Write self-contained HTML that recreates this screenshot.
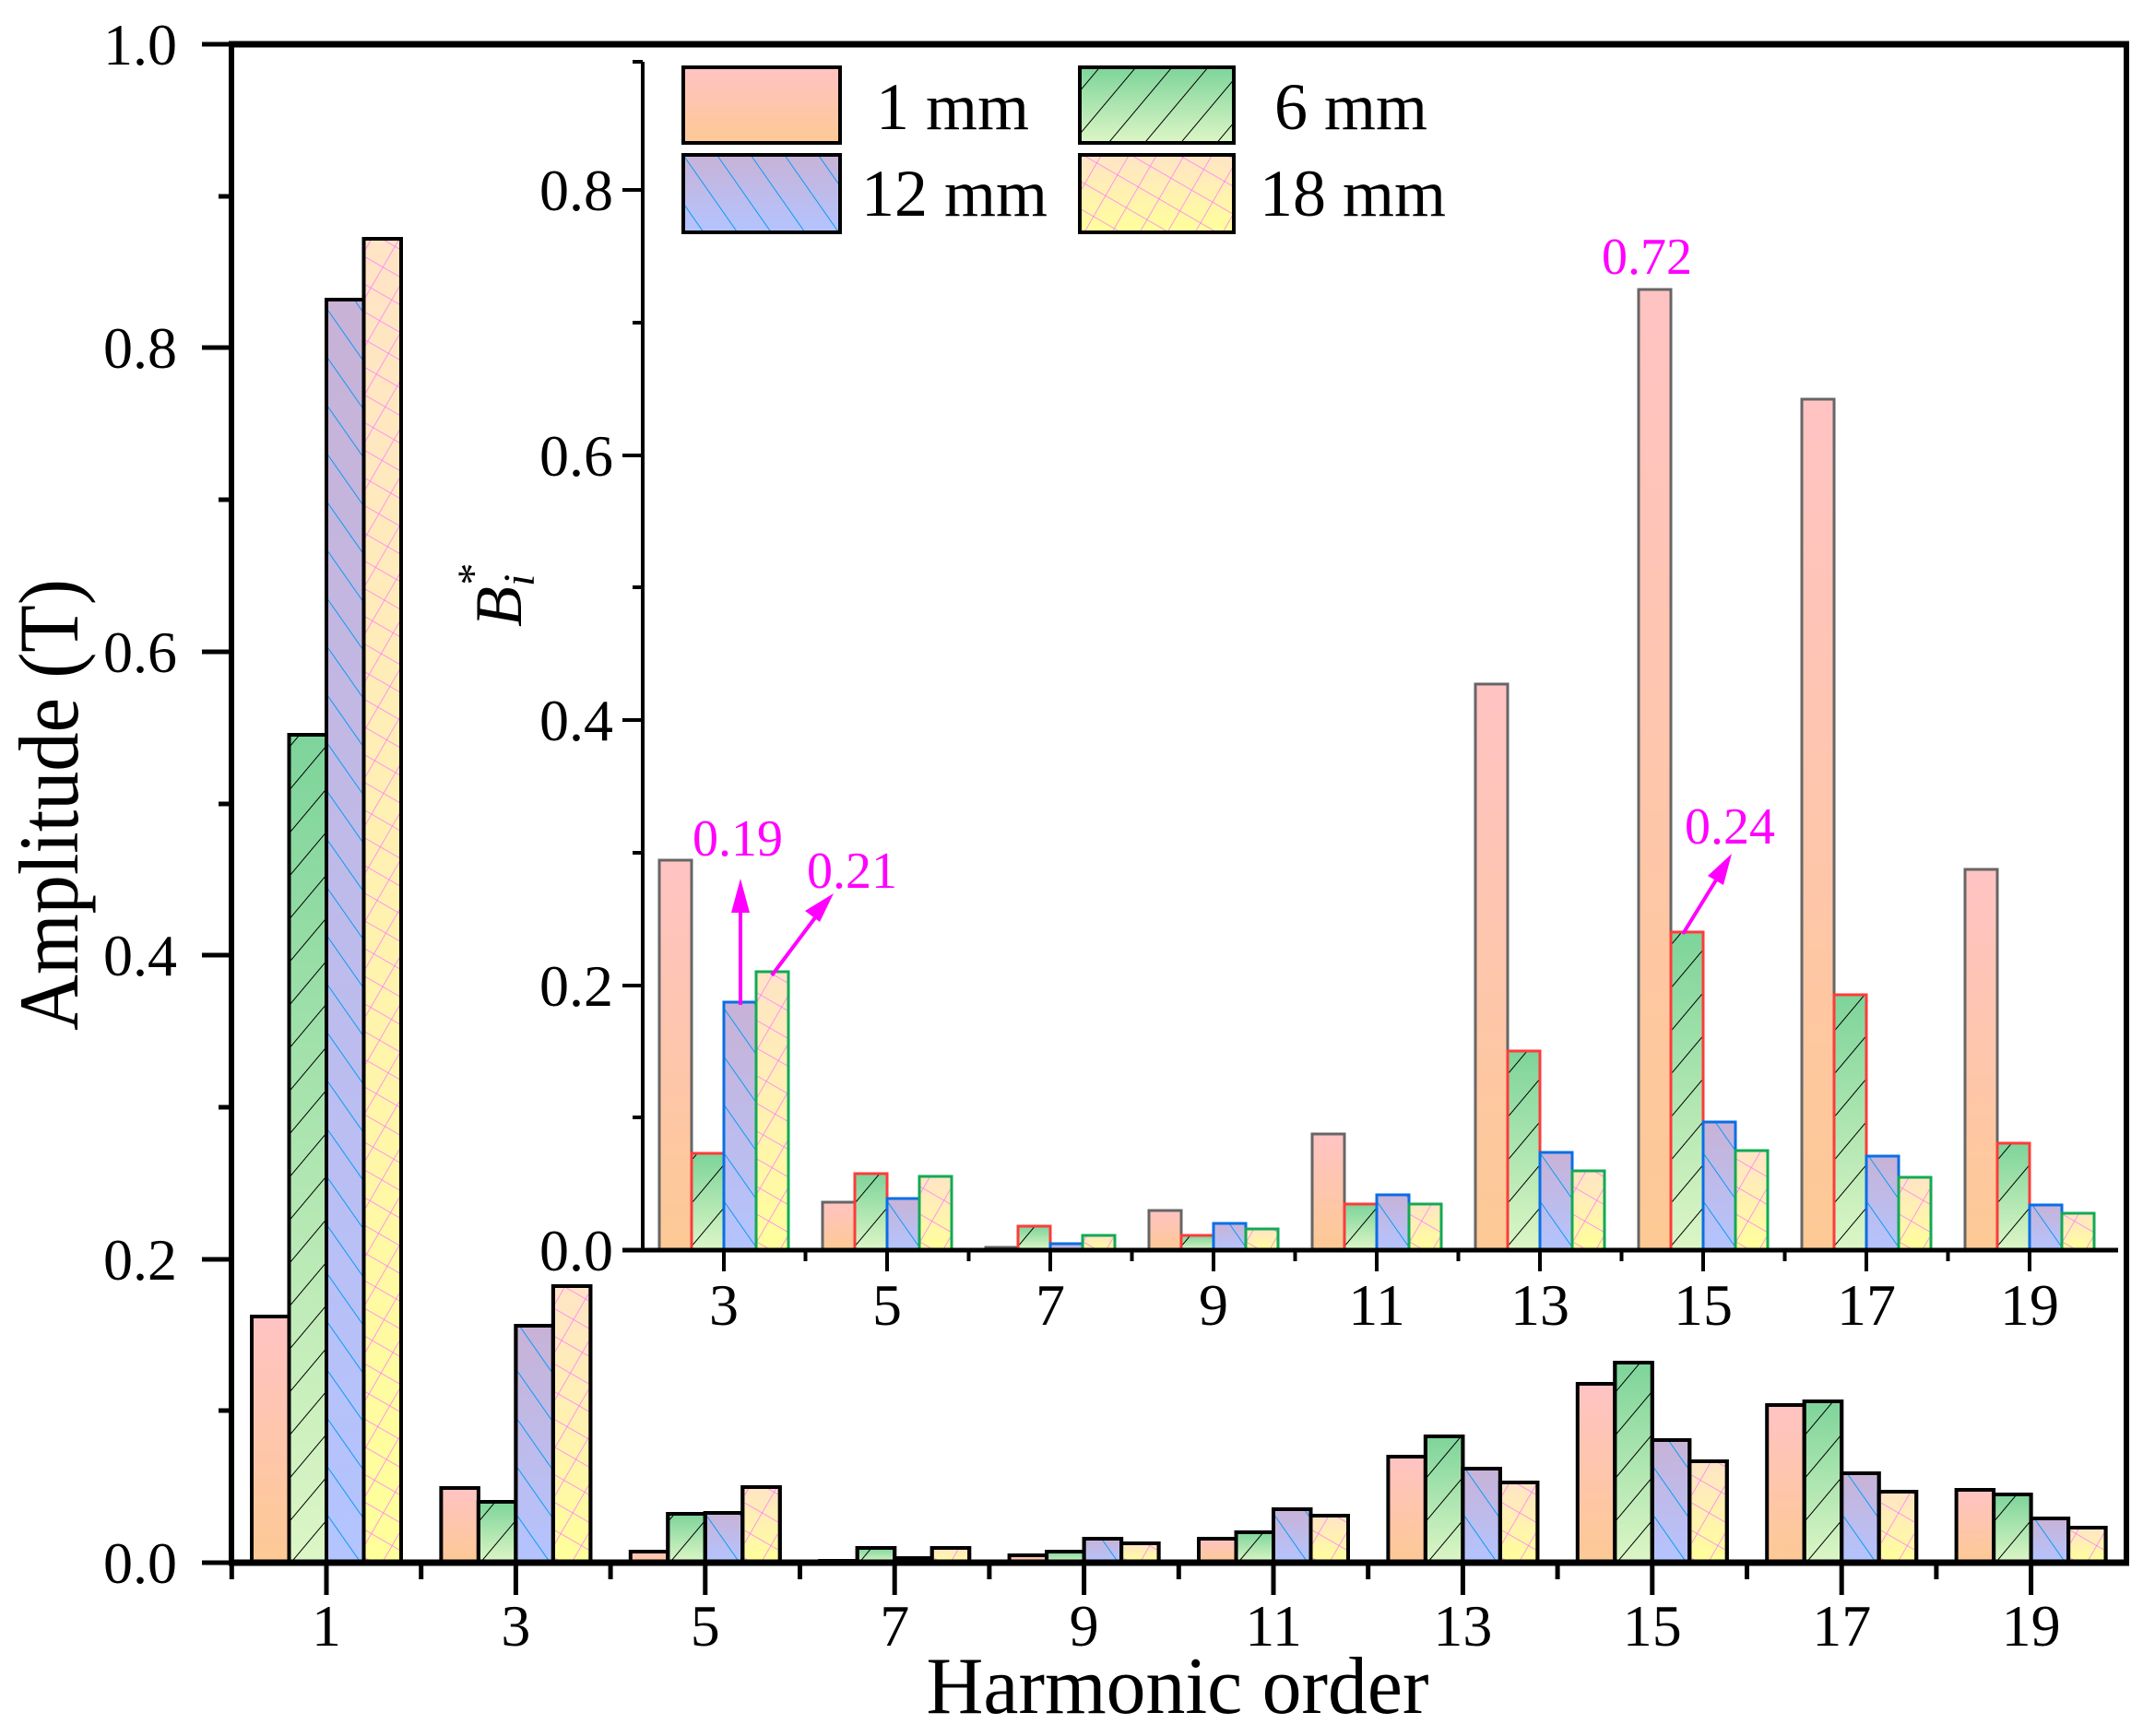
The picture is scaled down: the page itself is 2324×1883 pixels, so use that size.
<!DOCTYPE html>
<html><head><meta charset="utf-8"><style>html,body{margin:0;padding:0;background:#fff}svg{display:block}</style></head>
<body>
<svg width="2324" height="1883" viewBox="0 0 2324 1883" xmlns="http://www.w3.org/2000/svg" font-family="Liberation Serif, serif">
<defs>
<linearGradient id="g1" x1="0" y1="0" x2="0" y2="1"><stop offset="0" stop-color="#ffc3c3"/><stop offset="1" stop-color="#fdc994"/></linearGradient>
<linearGradient id="g2" x1="0" y1="0" x2="0" y2="1"><stop offset="0" stop-color="#7dd49a"/><stop offset="1" stop-color="#ddf6c6"/></linearGradient>
<linearGradient id="g3" x1="0" y1="0" x2="0" y2="1"><stop offset="0" stop-color="#c8b2d6"/><stop offset="1" stop-color="#b3c4ff"/></linearGradient>
<linearGradient id="g4" x1="0" y1="0" x2="0" y2="1"><stop offset="0" stop-color="#ffe4c6"/><stop offset="1" stop-color="#ffff9a"/></linearGradient>
<pattern id="p2" width="30" height="30" patternUnits="userSpaceOnUse" patternTransform="rotate(40)"><line x1="0" y1="0" x2="0" y2="30" stroke="#000" stroke-width="2"/></pattern>
<pattern id="p3" width="30" height="30" patternUnits="userSpaceOnUse" patternTransform="rotate(-35)"><line x1="0" y1="0" x2="0" y2="30" stroke="#0a9cf5" stroke-width="2"/></pattern>
<pattern id="p4" width="26" height="26" patternUnits="userSpaceOnUse" patternTransform="rotate(30)"><line x1="0" y1="0" x2="0" y2="26" stroke="#ff77ff" stroke-width="1.5"/><line x1="0" y1="0" x2="26" y2="0" stroke="#ff77ff" stroke-width="1.5"/></pattern>
</defs>
<rect width="2324" height="1883" fill="#fff"/>

<!-- MAIN BARS -->
<g stroke="#000" stroke-width="4">
<g transform="translate(354,1695)"><rect x="-81" y="-267" width="40.5" height="267" fill="url(#g1)"/><rect x="-40.5" y="-898" width="40.5" height="898" fill="url(#g2)"/><rect x="-40.5" y="-898" width="40.5" height="898" fill="url(#p2)"/><rect x="0" y="-1370" width="40.5" height="1370" fill="url(#g3)"/><rect x="0" y="-1370" width="40.5" height="1370" fill="url(#p3)"/><rect x="40.5" y="-1436" width="40.5" height="1436" fill="url(#g4)"/><rect x="40.5" y="-1436" width="40.5" height="1436" fill="url(#p4)"/></g>
<g transform="translate(559.4,1695)"><rect x="-81" y="-81" width="40.5" height="81" fill="url(#g1)"/><rect x="-40.5" y="-66" width="40.5" height="66" fill="url(#g2)"/><rect x="-40.5" y="-66" width="40.5" height="66" fill="url(#p2)"/><rect x="0" y="-257" width="40.5" height="257" fill="url(#g3)"/><rect x="0" y="-257" width="40.5" height="257" fill="url(#p3)"/><rect x="40.5" y="-300" width="40.5" height="300" fill="url(#g4)"/><rect x="40.5" y="-300" width="40.5" height="300" fill="url(#p4)"/></g>
<g transform="translate(764.8,1695)"><rect x="-81" y="-12" width="40.5" height="12" fill="url(#g1)"/><rect x="-40.5" y="-53" width="40.5" height="53" fill="url(#g2)"/><rect x="-40.5" y="-53" width="40.5" height="53" fill="url(#p2)"/><rect x="0" y="-54" width="40.5" height="54" fill="url(#g3)"/><rect x="0" y="-54" width="40.5" height="54" fill="url(#p3)"/><rect x="40.5" y="-82" width="40.5" height="82" fill="url(#g4)"/><rect x="40.5" y="-82" width="40.5" height="82" fill="url(#p4)"/></g>
<g transform="translate(970.2,1695)"><rect x="-81" y="-2" width="40.5" height="2" fill="url(#g1)"/><rect x="-40.5" y="-16" width="40.5" height="16" fill="url(#g2)"/><rect x="-40.5" y="-16" width="40.5" height="16" fill="url(#p2)"/><rect x="0" y="-5" width="40.5" height="5" fill="url(#g3)"/><rect x="40.5" y="-16" width="40.5" height="16" fill="url(#g4)"/><rect x="40.5" y="-16" width="40.5" height="16" fill="url(#p4)"/></g>
<g transform="translate(1175.6,1695)"><rect x="-81" y="-8" width="40.5" height="8" fill="url(#g1)"/><rect x="-40.5" y="-12" width="40.5" height="12" fill="url(#g2)"/><rect x="0" y="-26" width="40.5" height="26" fill="url(#g3)"/><rect x="0" y="-26" width="40.5" height="26" fill="url(#p3)"/><rect x="40.5" y="-21" width="40.5" height="21" fill="url(#g4)"/><rect x="40.5" y="-21" width="40.5" height="21" fill="url(#p4)"/></g>
<g transform="translate(1381,1695)"><rect x="-81" y="-26" width="40.5" height="26" fill="url(#g1)"/><rect x="-40.5" y="-33" width="40.5" height="33" fill="url(#g2)"/><rect x="-40.5" y="-33" width="40.5" height="33" fill="url(#p2)"/><rect x="0" y="-58" width="40.5" height="58" fill="url(#g3)"/><rect x="0" y="-58" width="40.5" height="58" fill="url(#p3)"/><rect x="40.5" y="-51" width="40.5" height="51" fill="url(#g4)"/><rect x="40.5" y="-51" width="40.5" height="51" fill="url(#p4)"/></g>
<g transform="translate(1586.4,1695)"><rect x="-81" y="-115" width="40.5" height="115" fill="url(#g1)"/><rect x="-40.5" y="-137" width="40.5" height="137" fill="url(#g2)"/><rect x="-40.5" y="-137" width="40.5" height="137" fill="url(#p2)"/><rect x="0" y="-102" width="40.5" height="102" fill="url(#g3)"/><rect x="0" y="-102" width="40.5" height="102" fill="url(#p3)"/><rect x="40.5" y="-87" width="40.5" height="87" fill="url(#g4)"/><rect x="40.5" y="-87" width="40.5" height="87" fill="url(#p4)"/></g>
<g transform="translate(1791.8,1695)"><rect x="-81" y="-194" width="40.5" height="194" fill="url(#g1)"/><rect x="-40.5" y="-217" width="40.5" height="217" fill="url(#g2)"/><rect x="-40.5" y="-217" width="40.5" height="217" fill="url(#p2)"/><rect x="0" y="-133" width="40.5" height="133" fill="url(#g3)"/><rect x="0" y="-133" width="40.5" height="133" fill="url(#p3)"/><rect x="40.5" y="-110" width="40.5" height="110" fill="url(#g4)"/><rect x="40.5" y="-110" width="40.5" height="110" fill="url(#p4)"/></g>
<g transform="translate(1997.2,1695)"><rect x="-81" y="-171" width="40.5" height="171" fill="url(#g1)"/><rect x="-40.5" y="-175" width="40.5" height="175" fill="url(#g2)"/><rect x="-40.5" y="-175" width="40.5" height="175" fill="url(#p2)"/><rect x="0" y="-97" width="40.5" height="97" fill="url(#g3)"/><rect x="0" y="-97" width="40.5" height="97" fill="url(#p3)"/><rect x="40.5" y="-77" width="40.5" height="77" fill="url(#g4)"/><rect x="40.5" y="-77" width="40.5" height="77" fill="url(#p4)"/></g>
<g transform="translate(2202.6,1695)"><rect x="-81" y="-79" width="40.5" height="79" fill="url(#g1)"/><rect x="-40.5" y="-74" width="40.5" height="74" fill="url(#g2)"/><rect x="-40.5" y="-74" width="40.5" height="74" fill="url(#p2)"/><rect x="0" y="-48" width="40.5" height="48" fill="url(#g3)"/><rect x="0" y="-48" width="40.5" height="48" fill="url(#p3)"/><rect x="40.5" y="-38" width="40.5" height="38" fill="url(#g4)"/><rect x="40.5" y="-38" width="40.5" height="38" fill="url(#p4)"/></g>
</g>

<!-- MAIN AXES -->
<g stroke="#000" fill="none">
<line x1="248" y1="48" x2="2309" y2="48" stroke-width="7"/>
<line x1="2306" y1="45" x2="2306" y2="1698" stroke-width="6"/>
<line x1="251" y1="45" x2="251" y2="1698" stroke-width="6"/>
<line x1="248" y1="1695" x2="2309" y2="1695" stroke-width="7"/>
<g stroke-width="5">
<line x1="219" y1="1695" x2="251" y2="1695"/><line x1="219" y1="1366" x2="251" y2="1366"/><line x1="219" y1="1036" x2="251" y2="1036"/><line x1="219" y1="707" x2="251" y2="707"/><line x1="219" y1="377" x2="251" y2="377"/><line x1="219" y1="48" x2="251" y2="48"/>
<line x1="237" y1="1530" x2="251" y2="1530"/><line x1="237" y1="1201" x2="251" y2="1201"/><line x1="237" y1="872" x2="251" y2="872"/><line x1="237" y1="542" x2="251" y2="542"/><line x1="237" y1="213" x2="251" y2="213"/>
<line x1="354" y1="1695" x2="354" y2="1730"/><line x1="559.4" y1="1695" x2="559.4" y2="1730"/><line x1="764.8" y1="1695" x2="764.8" y2="1730"/><line x1="970.2" y1="1695" x2="970.2" y2="1730"/><line x1="1175.6" y1="1695" x2="1175.6" y2="1730"/><line x1="1381" y1="1695" x2="1381" y2="1730"/><line x1="1586.4" y1="1695" x2="1586.4" y2="1730"/><line x1="1791.8" y1="1695" x2="1791.8" y2="1730"/><line x1="1997.2" y1="1695" x2="1997.2" y2="1730"/><line x1="2202.6" y1="1695" x2="2202.6" y2="1730"/>
<line x1="251.3" y1="1695" x2="251.3" y2="1713"/><line x1="456.7" y1="1695" x2="456.7" y2="1713"/><line x1="662.1" y1="1695" x2="662.1" y2="1713"/><line x1="867.5" y1="1695" x2="867.5" y2="1713"/><line x1="1072.9" y1="1695" x2="1072.9" y2="1713"/><line x1="1278.3" y1="1695" x2="1278.3" y2="1713"/><line x1="1483.7" y1="1695" x2="1483.7" y2="1713"/><line x1="1689.1" y1="1695" x2="1689.1" y2="1713"/><line x1="1894.5" y1="1695" x2="1894.5" y2="1713"/><line x1="2099.9" y1="1695" x2="2099.9" y2="1713"/>
</g></g>
<g font-size="64" fill="#000" text-anchor="end">
<text x="192" y="1717">0.0</text><text x="192" y="1388">0.2</text><text x="192" y="1058">0.4</text><text x="192" y="729">0.6</text><text x="192" y="399">0.8</text><text x="192" y="70">1.0</text>
</g>
<g font-size="64" fill="#000" text-anchor="middle">
<text x="354" y="1785">1</text><text x="559.4" y="1785">3</text><text x="764.8" y="1785">5</text><text x="970.2" y="1785">7</text><text x="1175.6" y="1785">9</text><text x="1381" y="1785">11</text><text x="1586.4" y="1785">13</text><text x="1791.8" y="1785">15</text><text x="1997.2" y="1785">17</text><text x="2202.6" y="1785">19</text>
</g>
<text x="1277" y="1858" font-size="88" text-anchor="middle" textLength="545" lengthAdjust="spacingAndGlyphs">Harmonic order</text>
<text transform="translate(84,873) rotate(-90)" font-size="92" text-anchor="middle" textLength="490" lengthAdjust="spacingAndGlyphs">Amplitude (T)</text>

<!-- INSET BARS -->
<g stroke-width="3">
<g transform="translate(785,1356)"><rect x="-70" y="-423" width="35" height="423" fill="url(#g1)" stroke="#666"/><rect x="-35" y="-105" width="35" height="105" fill="url(#g2)"/><rect x="-35" y="-105" width="35" height="105" fill="url(#p2)" stroke="#ff3b3b"/><rect x="0" y="-269" width="35" height="269" fill="url(#g3)"/><rect x="0" y="-269" width="35" height="269" fill="url(#p3)" stroke="#0a6ee6"/><rect x="35" y="-302" width="35" height="302" fill="url(#g4)"/><rect x="35" y="-302" width="35" height="302" fill="url(#p4)" stroke="#11aa55"/></g>
<g transform="translate(962,1356)"><rect x="-70" y="-52" width="35" height="52" fill="url(#g1)" stroke="#666"/><rect x="-35" y="-83" width="35" height="83" fill="url(#g2)"/><rect x="-35" y="-83" width="35" height="83" fill="url(#p2)" stroke="#ff3b3b"/><rect x="0" y="-56" width="35" height="56" fill="url(#g3)"/><rect x="0" y="-56" width="35" height="56" fill="url(#p3)" stroke="#0a6ee6"/><rect x="35" y="-80" width="35" height="80" fill="url(#g4)"/><rect x="35" y="-80" width="35" height="80" fill="url(#p4)" stroke="#11aa55"/></g>
<g transform="translate(1139,1356)"><rect x="-70" y="-3" width="35" height="3" fill="url(#g1)" stroke="#666"/><rect x="-35" y="-26" width="35" height="26" fill="url(#g2)"/><rect x="-35" y="-26" width="35" height="26" fill="url(#p2)" stroke="#ff3b3b"/><rect x="0" y="-7" width="35" height="7" fill="url(#g3)" stroke="#0a6ee6"/><rect x="35" y="-16" width="35" height="16" fill="url(#g4)"/><rect x="35" y="-16" width="35" height="16" fill="url(#p4)" stroke="#11aa55"/></g>
<g transform="translate(1316,1356)"><rect x="-70" y="-43" width="35" height="43" fill="url(#g1)" stroke="#666"/><rect x="-35" y="-16" width="35" height="16" fill="url(#g2)"/><rect x="-35" y="-16" width="35" height="16" fill="url(#p2)" stroke="#ff3b3b"/><rect x="0" y="-29" width="35" height="29" fill="url(#g3)"/><rect x="0" y="-29" width="35" height="29" fill="url(#p3)" stroke="#0a6ee6"/><rect x="35" y="-23" width="35" height="23" fill="url(#g4)"/><rect x="35" y="-23" width="35" height="23" fill="url(#p4)" stroke="#11aa55"/></g>
<g transform="translate(1493,1356)"><rect x="-70" y="-126" width="35" height="126" fill="url(#g1)" stroke="#666"/><rect x="-35" y="-50" width="35" height="50" fill="url(#g2)"/><rect x="-35" y="-50" width="35" height="50" fill="url(#p2)" stroke="#ff3b3b"/><rect x="0" y="-60" width="35" height="60" fill="url(#g3)"/><rect x="0" y="-60" width="35" height="60" fill="url(#p3)" stroke="#0a6ee6"/><rect x="35" y="-50" width="35" height="50" fill="url(#g4)"/><rect x="35" y="-50" width="35" height="50" fill="url(#p4)" stroke="#11aa55"/></g>
<g transform="translate(1670,1356)"><rect x="-70" y="-614" width="35" height="614" fill="url(#g1)" stroke="#666"/><rect x="-35" y="-216" width="35" height="216" fill="url(#g2)"/><rect x="-35" y="-216" width="35" height="216" fill="url(#p2)" stroke="#ff3b3b"/><rect x="0" y="-106" width="35" height="106" fill="url(#g3)"/><rect x="0" y="-106" width="35" height="106" fill="url(#p3)" stroke="#0a6ee6"/><rect x="35" y="-86" width="35" height="86" fill="url(#g4)"/><rect x="35" y="-86" width="35" height="86" fill="url(#p4)" stroke="#11aa55"/></g>
<g transform="translate(1847,1356)"><rect x="-70" y="-1042" width="35" height="1042" fill="url(#g1)" stroke="#666"/><rect x="-35" y="-345" width="35" height="345" fill="url(#g2)"/><rect x="-35" y="-345" width="35" height="345" fill="url(#p2)" stroke="#ff3b3b"/><rect x="0" y="-139" width="35" height="139" fill="url(#g3)"/><rect x="0" y="-139" width="35" height="139" fill="url(#p3)" stroke="#0a6ee6"/><rect x="35" y="-108" width="35" height="108" fill="url(#g4)"/><rect x="35" y="-108" width="35" height="108" fill="url(#p4)" stroke="#11aa55"/></g>
<g transform="translate(2024,1356)"><rect x="-70" y="-923" width="35" height="923" fill="url(#g1)" stroke="#666"/><rect x="-35" y="-277" width="35" height="277" fill="url(#g2)"/><rect x="-35" y="-277" width="35" height="277" fill="url(#p2)" stroke="#ff3b3b"/><rect x="0" y="-102" width="35" height="102" fill="url(#g3)"/><rect x="0" y="-102" width="35" height="102" fill="url(#p3)" stroke="#0a6ee6"/><rect x="35" y="-79" width="35" height="79" fill="url(#g4)"/><rect x="35" y="-79" width="35" height="79" fill="url(#p4)" stroke="#11aa55"/></g>
<g transform="translate(2201,1356)"><rect x="-70" y="-413" width="35" height="413" fill="url(#g1)" stroke="#666"/><rect x="-35" y="-116" width="35" height="116" fill="url(#g2)"/><rect x="-35" y="-116" width="35" height="116" fill="url(#p2)" stroke="#ff3b3b"/><rect x="0" y="-49" width="35" height="49" fill="url(#g3)"/><rect x="0" y="-49" width="35" height="49" fill="url(#p3)" stroke="#0a6ee6"/><rect x="35" y="-40" width="35" height="40" fill="url(#g4)"/><rect x="35" y="-40" width="35" height="40" fill="url(#p4)" stroke="#11aa55"/></g>
</g>

<!-- INSET AXES -->
<g stroke="#000" fill="none" stroke-width="4">
<line x1="697" y1="67" x2="697" y2="1358"/>
<line x1="675" y1="1356" x2="2297" y2="1356" stroke-width="5"/>
<line x1="675" y1="1069" x2="697" y2="1069"/><line x1="675" y1="781" x2="697" y2="781"/><line x1="675" y1="494" x2="697" y2="494"/><line x1="675" y1="206" x2="697" y2="206"/>
<line x1="686" y1="1212" x2="697" y2="1212"/><line x1="686" y1="925" x2="697" y2="925"/><line x1="686" y1="637" x2="697" y2="637"/><line x1="686" y1="350" x2="697" y2="350"/><line x1="686" y1="67" x2="697" y2="67"/>
<line x1="785" y1="1356" x2="785" y2="1379"/><line x1="962" y1="1356" x2="962" y2="1379"/><line x1="1139" y1="1356" x2="1139" y2="1379"/><line x1="1316" y1="1356" x2="1316" y2="1379"/><line x1="1493" y1="1356" x2="1493" y2="1379"/><line x1="1670" y1="1356" x2="1670" y2="1379"/><line x1="1847" y1="1356" x2="1847" y2="1379"/><line x1="2024" y1="1356" x2="2024" y2="1379"/><line x1="2201" y1="1356" x2="2201" y2="1379"/>
<line x1="873.5" y1="1356" x2="873.5" y2="1368"/><line x1="1050.5" y1="1356" x2="1050.5" y2="1368"/><line x1="1227.5" y1="1356" x2="1227.5" y2="1368"/><line x1="1404.5" y1="1356" x2="1404.5" y2="1368"/><line x1="1581.5" y1="1356" x2="1581.5" y2="1368"/><line x1="1758.5" y1="1356" x2="1758.5" y2="1368"/><line x1="1935.5" y1="1356" x2="1935.5" y2="1368"/><line x1="2112.5" y1="1356" x2="2112.5" y2="1368"/>
</g>
<g font-size="64" fill="#000" text-anchor="end">
<text x="665" y="1378">0.0</text><text x="665" y="1091">0.2</text><text x="665" y="803">0.4</text><text x="665" y="516">0.6</text><text x="665" y="228">0.8</text>
</g>
<g font-size="64" fill="#000" text-anchor="middle">
<text x="785" y="1437">3</text><text x="962" y="1437">5</text><text x="1139" y="1437">7</text><text x="1316" y="1437">9</text><text x="1493" y="1437">11</text><text x="1670" y="1437">13</text><text x="1847" y="1437">15</text><text x="2024" y="1437">17</text><text x="2201" y="1437">19</text>
</g>
<text transform="translate(565,680) rotate(-90)" font-size="72" font-style="italic">B<tspan font-size="48" dy="14">i</tspan><tspan font-size="48" dx="-12" dy="-50" font-style="normal">*</tspan></text>

<!-- LEGEND -->
<g stroke="#000" stroke-width="4">
<rect x="741" y="73" width="170" height="82" fill="url(#g1)"/>
<rect x="1171" y="73" width="167" height="82" fill="url(#g2)"/><rect x="1171" y="73" width="167" height="82" fill="url(#p2)"/>
<rect x="741" y="168" width="170" height="84" fill="url(#g3)"/><rect x="741" y="168" width="170" height="84" fill="url(#p3)"/>
<rect x="1171" y="168" width="167" height="84" fill="url(#g4)"/><rect x="1171" y="168" width="167" height="84" fill="url(#p4)"/>
</g>
<g font-size="72" fill="#000">
<text x="950" y="140">1 mm</text><text x="1382" y="140">6 mm</text>
<text x="934" y="234">12 mm</text><text x="1366" y="234">18 mm</text>
</g>

<!-- ANNOTATIONS -->
<g fill="#ff00ff" font-size="56">
<text x="751" y="928">0.19</text><text x="875" y="963">0.21</text><text x="1827" y="915">0.24</text><text x="1737" y="297">0.72</text>
</g>
<g stroke="#ff00ff" stroke-width="4" fill="#ff00ff">
<line x1="803" y1="1090" x2="803" y2="985"/><polygon points="803,953 793,990 813,990" stroke="none"/>
<line x1="837" y1="1058" x2="885" y2="994"/><polygon points="904,969 873,988 889,1000" stroke="none"/>
<line x1="1825" y1="1013" x2="1862" y2="953"/><polygon points="1878,926 1852,950 1869,960" stroke="none"/>
</g>
</svg>
</body></html>
